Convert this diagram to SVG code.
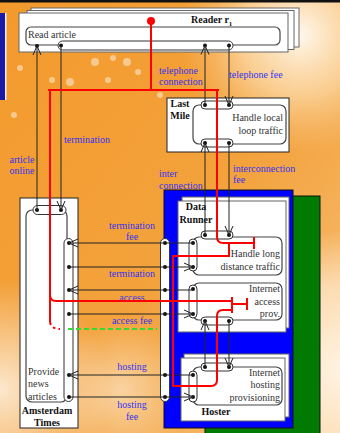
<svg xmlns="http://www.w3.org/2000/svg" width="340" height="433" viewBox="0 0 340 433">
<defs>
<style>
.page{fill:#fff;stroke:#666;stroke-width:1}
.box{fill:#fff;stroke:#222;stroke-width:1}
.act{fill:#fff;stroke:#444;stroke-width:1.2}
.cap{fill:#fff;stroke:#333;stroke-width:1}
.dot{fill:#111}
.lbl{font-family:"Liberation Serif",serif;font-size:10px;font-weight:bold;fill:#111}
.at{font-family:"Liberation Serif",serif;font-size:10px;fill:#333}
.vl{font-family:"Liberation Serif",serif;font-size:10px;fill:#3333ee}
.vt{stroke:#222;stroke-width:1;fill:none}
.red{stroke:#ff0000;stroke-width:2;fill:none}
.bk{fill:#fff;opacity:.45}
</style>
<marker id="arr" viewBox="-10 -5 11 10" refX="0" refY="0" markerWidth="11" markerHeight="10" markerUnits="userSpaceOnUse" orient="auto">
<path d="M-9,-4 L0,0 L-9,4" fill="none" stroke="#222" stroke-width="1"/>
</marker>
<linearGradient id="bg" x1="0" y1="0" x2="1" y2="1">
<stop offset="0" stop-color="#f39a2c"/>
<stop offset="0.55" stop-color="#f3a23c"/>
<stop offset="1" stop-color="#f7c27c"/>
</linearGradient>
<radialGradient id="gTR" cx="300" cy="35" r="120" gradientUnits="userSpaceOnUse">
<stop offset="0" stop-color="#fff8ee" stop-opacity="1"/>
<stop offset="0.5" stop-color="#fde0b4" stop-opacity="0.7"/>
<stop offset="1" stop-color="#f9c98a" stop-opacity="0"/>
</radialGradient>
<radialGradient id="gBR" cx="345" cy="370" r="140" gradientUnits="userSpaceOnUse">
<stop offset="0" stop-color="#fff4e4" stop-opacity="1"/>
<stop offset="0.6" stop-color="#fde6c6" stop-opacity="0.8"/>
<stop offset="1" stop-color="#fde6c6" stop-opacity="0"/>
</radialGradient>
<radialGradient id="gBL" cx="0" cy="390" r="110" gradientUnits="userSpaceOnUse">
<stop offset="0" stop-color="#ffffff" stop-opacity="0.75"/>
<stop offset="1" stop-color="#ffffff" stop-opacity="0"/>
</radialGradient>
<radialGradient id="gM" cx="120" cy="390" r="70" gradientUnits="userSpaceOnUse">
<stop offset="0" stop-color="#ffffff" stop-opacity="0.5"/>
<stop offset="1" stop-color="#ffffff" stop-opacity="0"/>
</radialGradient>
</defs>

<g id="background">
<rect width="340" height="433" fill="url(#bg)"/>
<rect width="340" height="433" fill="url(#gTR)"/>
<rect width="340" height="433" fill="url(#gBR)"/>
<rect width="340" height="433" fill="url(#gBL)"/>
<rect width="340" height="433" fill="url(#gM)"/>
<circle cx="95" cy="62" r="4" class="bk"/>
<circle cx="113" cy="58" r="3" class="bk"/>
<circle cx="127" cy="62" r="4" class="bk"/>
<circle cx="138" cy="72" r="3" class="bk"/>
<circle cx="108" cy="80" r="3" class="bk"/>
<circle cx="70" cy="82" r="4" class="bk"/>
<circle cx="52" cy="80" r="3" class="bk"/>
<circle cx="20" cy="68" r="3" class="bk"/>
<circle cx="14" cy="115" r="3" class="bk"/>
<circle cx="160" cy="95" r="3" class="bk"/>
<rect x="0" y="0" width="340" height="2.5" fill="#111"/>
<rect x="0" y="13" width="5" height="87" fill="#1a1aa6"/>
<rect x="5" y="13" width="1.5" height="87" fill="#eee"/>
</g>

<g id="reader">
<rect x="31" y="8" width="268" height="39" class="page"/>
<rect x="27" y="10.5" width="267" height="39" class="page"/>
<rect x="19" y="13" width="269" height="39" class="page"/>
<text x="191" y="23" class="lbl">Reader r<tspan font-size="7" dy="3">1</tspan></text>
<rect x="26" y="27" width="254" height="18" rx="5" class="act"/>
<text x="28" y="38" class="at">Read article</text>
<rect x="58" y="41" width="175" height="9" rx="4.5" class="cap"/>
<circle cx="37" cy="46" r="2" class="dot"/>
<circle cx="61" cy="45.5" r="2" class="dot"/>
<circle cx="205" cy="45.5" r="2" class="dot"/>
<circle cx="229" cy="45.5" r="2" class="dot"/>
</g>

<g id="last-mile">
<rect x="167" y="98" width="122" height="54" class="box"/>
<text x="180" y="107" class="lbl" text-anchor="middle">Last</text>
<text x="180" y="119" class="lbl" text-anchor="middle">Mile</text>
<rect x="193" y="105" width="93" height="39" rx="6" class="act"/>
<text x="283" y="121" class="at" text-anchor="end">Handle local</text>
<text x="283" y="134" class="at" text-anchor="end">loop traffic</text>
<rect x="201" y="101" width="32" height="8" rx="4" class="cap"/>
<rect x="201" y="139" width="32" height="8" rx="4" class="cap"/>
<circle cx="205" cy="105" r="2" class="dot"/>
<circle cx="229" cy="105" r="2" class="dot"/>
<circle cx="205" cy="143" r="2" class="dot"/>
<circle cx="229" cy="143" r="2" class="dot"/>
</g>

<g id="data-runner">
<rect x="205" y="196" width="115" height="240" fill="#007a00" stroke="#111"/>
<rect x="164" y="190" width="129" height="238" fill="#0000ff" stroke="#111"/>
<rect x="182" y="197" width="107" height="131" class="page"/>
<rect x="178" y="201" width="108" height="131" class="page"/>
<text x="196" y="210" class="lbl" text-anchor="middle">Data</text>
<text x="196" y="223" class="lbl" text-anchor="middle">Runner</text>
<rect x="193" y="237" width="89" height="38" rx="6" class="act"/>
<text x="280" y="257" class="at" text-anchor="end">Handle long</text>
<text x="280" y="270" class="at" text-anchor="end">distance traffic</text>
<rect x="201" y="231" width="32" height="8" rx="4" class="cap"/>
<rect x="189" y="239" width="8" height="32" rx="4" class="cap"/>
<circle cx="205" cy="235" r="2" class="dot"/>
<circle cx="229" cy="235" r="2" class="dot"/>
<circle cx="193" cy="243" r="2" class="dot"/>
<circle cx="193" cy="267" r="2" class="dot"/>
<rect x="193" y="283" width="89" height="37" rx="6" class="act"/>
<text x="280" y="292" class="at" text-anchor="end">Internet</text>
<text x="280" y="305" class="at" text-anchor="end">access</text>
<text x="280" y="317" class="at" text-anchor="end">prov.</text>
<rect x="189" y="285" width="8" height="33" rx="4" class="cap"/>
<rect x="201" y="317" width="32" height="8" rx="4" class="cap"/>
<circle cx="193" cy="289" r="2" class="dot"/>
<circle cx="193" cy="314" r="2" class="dot"/>
<circle cx="205" cy="321" r="2" class="dot"/>
<circle cx="229" cy="321" r="2" class="dot"/>
<rect x="160.5" y="238.5" width="9" height="163" rx="4.5" class="cap"/>
<circle cx="165" cy="243" r="2" class="dot"/>
<circle cx="165" cy="267" r="2" class="dot"/>
<circle cx="165" cy="290" r="2" class="dot"/>
<circle cx="165" cy="314" r="2" class="dot"/>
<circle cx="165" cy="375" r="2" class="dot"/>
<circle cx="165" cy="397" r="2" class="dot"/>
</g>

<g id="hoster">
<rect x="184" y="354" width="105" height="63" class="page"/>
<rect x="181" y="358" width="104" height="63" class="page"/>
<rect x="193" y="367" width="89" height="38" rx="6" class="act"/>
<text x="280" y="376" class="at" text-anchor="end">Internet</text>
<text x="280" y="388" class="at" text-anchor="end">hosting</text>
<text x="280" y="401" class="at" text-anchor="end">provisioning</text>
<text x="216" y="415" class="lbl" text-anchor="middle">Hoster</text>
<rect x="201" y="363" width="32" height="8" rx="4" class="cap"/>
<rect x="189" y="371" width="8" height="31" rx="4" class="cap"/>
<circle cx="205" cy="367" r="2" class="dot"/>
<circle cx="229" cy="367" r="2" class="dot"/>
<circle cx="193" cy="375" r="2" class="dot"/>
<circle cx="193" cy="397" r="2" class="dot"/>
</g>

<g id="amsterdam-times">
<rect x="20" y="198" width="58" height="230" class="box"/>
<rect x="26" y="210" width="41" height="192" rx="6" class="act"/>
<text x="28" y="375" class="at">Provide</text>
<text x="28" y="387" class="at">news</text>
<text x="28" y="400" class="at">articles</text>
<text x="47" y="414" class="lbl" text-anchor="middle">Amsterdam</text>
<text x="47" y="426" class="lbl" text-anchor="middle">Times</text>
<rect x="33" y="205.5" width="33" height="9" rx="4.5" class="cap"/>
<rect x="64" y="238.5" width="9" height="163" rx="4.5" class="cap"/>
<circle cx="37" cy="210" r="2" class="dot"/>
<circle cx="61" cy="210" r="2" class="dot"/>
<circle cx="69" cy="243" r="2" class="dot"/>
<circle cx="69" cy="267" r="2" class="dot"/>
<circle cx="69" cy="290" r="2" class="dot"/>
<circle cx="69" cy="314" r="2" class="dot"/>
<circle cx="69" cy="375" r="2" class="dot"/>
<circle cx="69" cy="397" r="2" class="dot"/>
</g>

<g id="connectors">
<path class="vt" d="M37,210 V46" marker-end="url(#arr)"/>
<path class="vt" d="M61,46 V210" marker-end="url(#arr)"/>
<path class="vt" d="M205,105 V45.5" marker-end="url(#arr)"/>
<path class="vt" d="M229,45.5 V105" marker-end="url(#arr)"/>
<path class="vt" d="M205,235 V143" marker-end="url(#arr)"/>
<path class="vt" d="M229,143 V235" marker-end="url(#arr)"/>
<path class="vt" d="M205,367 V321" marker-end="url(#arr)"/>
<path class="vt" d="M229,321 V367" marker-end="url(#arr)"/>
<path class="vt" d="M165,243 H69" marker-end="url(#arr)"/>
<path class="vt" d="M69,267 H165"/>
<path class="vt" d="M165,290 H69" marker-end="url(#arr)"/>
<path class="vt" d="M69,314 H165"/>
<path class="vt" d="M165,375 H69" marker-end="url(#arr)"/>
<path class="vt" d="M69,397 H165"/>
<path class="vt" d="M165,243 H193"/>
<path class="vt" d="M165,267 H193" marker-end="url(#arr)"/>
<path class="vt" d="M165,290 H193"/>
<path class="vt" d="M165,314 H193" marker-end="url(#arr)"/>
<path class="vt" d="M165,375 H193"/>
<path class="vt" d="M165,397 H193" marker-end="url(#arr)"/>
</g>

<g id="labels">
<text x="159" y="74" class="vl">telephone</text>
<text x="159" y="85" class="vl">connection</text>
<text x="229" y="78" class="vl">telephone fee</text>
<text x="64" y="143" class="vl">termination</text>
<text x="22" y="163" class="vl" text-anchor="middle">article</text>
<text x="22" y="174" class="vl" text-anchor="middle">online</text>
<text x="159" y="177" class="vl">inter</text>
<text x="159" y="189" class="vl">connection</text>
<text x="233" y="172" class="vl">interconnection</text>
<text x="233" y="183" class="vl">fee</text>
<text x="132" y="229" class="vl" text-anchor="middle">termination</text>
<text x="132" y="240" class="vl" text-anchor="middle">fee</text>
<text x="132" y="277" class="vl" text-anchor="middle">termination</text>
<text x="132" y="301" class="vl" text-anchor="middle">access</text>
<text x="132" y="324" class="vl" text-anchor="middle">access fee</text>
<text x="132" y="370" class="vl" text-anchor="middle">hosting</text>
<text x="132" y="408" class="vl" text-anchor="middle">hosting</text>
<text x="132" y="420" class="vl" text-anchor="middle">fee</text>
</g>

<g id="dependency-path">
<circle cx="151" cy="21" r="4" fill="#ff0000"/>
<path class="red" d="M151,21 V90"/>
<path class="red" d="M48,90 H219"/>
<path class="red" d="M50,90 V322"/>
<path class="red" d="M50,295 Q50,301 56,301 H232"/>
<path class="red" d="M50,322 Q51,329 60,329" stroke-dasharray="3 3"/>
<path d="M68,329 H157" stroke="#33dd33" stroke-width="2" stroke-dasharray="5 3" fill="none"/>
<path class="red" d="M217,90 V237 Q217,243 223,243 H254"/>
<path class="red" d="M254,237 V249"/>
<path class="red" d="M229,243 V257"/>
<path class="red" d="M229,256 H173 V386 H211 Q217,386 217,380 V316 Q217,310 223,310 H232"/>
<path class="red" d="M232,297 V313"/>
<path class="red" d="M232,304 H247"/>
<path class="red" d="M247,298 V310"/>
</g>
</svg>
